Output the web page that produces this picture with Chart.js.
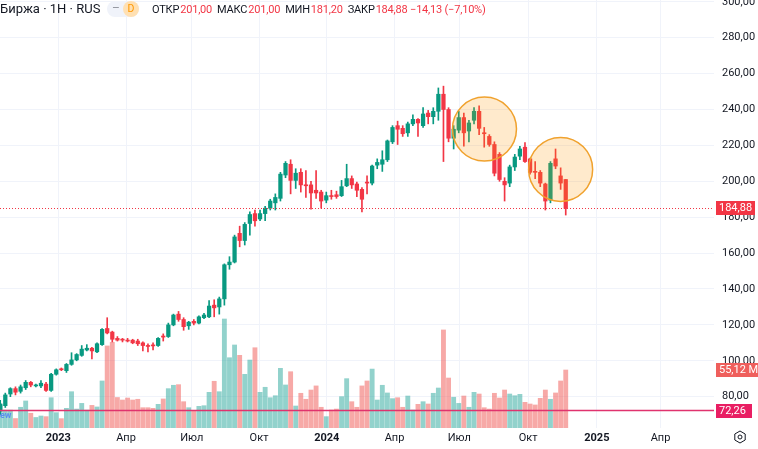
<!DOCTYPE html>
<html>
<head>
<meta charset="utf-8">
<script src="https://cdn.jsdelivr.net/npm/chart.js@4.4.1/dist/chart.umd.min.js"></script>
<style>
  html, body { margin: 0; padding: 0; background: #fff; }
  #wrap { position: relative; width: 758px; height: 449px; overflow: hidden; font-family: Roboto, "Noto Sans", sans-serif; }
  #c { position: absolute; left: 0; top: 0; }
  .hd { position: absolute; top: 0; white-space: nowrap; color: #131722; }
  .t { font-size: 13px; top: 1px; }
  #ohlc { position: absolute; left: 152px; top: 3px; font-size: 11px; white-space: nowrap; color: #131722; letter-spacing: -0.2px; }
  #ohlc .r { color: #f23645; margin-left: 1px; margin-right: 5px; }
  #pill { position: absolute; left: 107px; top: 1px; width: 32px; height: 16px; border-radius: 8px; background: #f0f3fa; }
  #pill .m { position: absolute; left: 5px; top: 0; font-size: 12px; color: #9598a1; }
  #pill .d { position: absolute; left: 16px; top: 0; width: 16px; height: 16px; border-radius: 8px; background: #ffe0b2; color: #ff9800; font-size: 10.5px; text-align: center; line-height: 16px; }
  #ew { position: absolute; left: 0; top: 410px; font-size: 9px; font-weight: bold; color: #5b8def; }
</style>
</head>
<body>
<div id="wrap">
  <canvas id="c" width="758" height="449"></canvas>
  <div class="hd t" style="left:0">Биржа · 1Н · RUS</div>
  <div id="pill"><span class="m">–</span><span class="d">D</span></div>
  <div id="ohlc">ОТКР<span class="r" id="vO"></span>МАКС<span class="r" id="vH"></span>МИН<span class="r" id="vL"></span>ЗАКР<span class="r" id="vC"></span></div>
  <div id="ew">ew</div>
</div>
<script>
// weekly candles, oct 2022 -> nov 2024
const opens  = [72,75,81.5,84.5,83,85,88,86,86,87,83.5,92.5,95.5,94.5,98,100.5,103,106,107,105,
  109,118,116,112.5,112,111.5,111.5,111,110,108.5,108.8,108.5,113.8,113.5,120,126,123,119.5,122,121,
  124,124.5,131,130,134.5,153.5,155,171,167,176.5,182,179,182,185,188,190.5,203.5,209.5,200.5,205,
  198,198,195,194,189.5,192,192.5,192,197.5,201.5,198.5,195.5,199.5,199,209,209.5,212,222,231,229.5,
  227,232,234.5,231,238,236,239,248.5,240,224,228.5,235.5,228,234,239,227,225,220.5,215,200,
  199,208,214,219,212.5,205.5,205,198.5,189.5,212.5,203,201];
const highs  = [78,82,85,85.5,86.5,89,88.5,87,89,88,93,95.5,96,98.5,104.5,104,108.5,109,107.5,110,
  118,124,116.5,113.5,112.5,112.5,112,112,110.5,109.5,110,113,115,121,126,127.5,124,122,123,125,
  126.5,133.5,134,135.5,154,158,170,175,177,183,184,184,186,190,193,205,211,212,207,207,
  206,200,206,195,194,195,194.5,200.5,209.5,203,199.5,196.5,203,209,212.5,217,223,231,233.5,231,
  233,237,235,241,239.5,241,252,253,241,231,239,238,234,241,242,230,226,222,216,202,
  209,215,219.5,221.5,213,211,206,199,211,218,207.5,201];
const lows   = [70,74,80,81,82,84,85.5,85.5,85,83,83,92,94.5,93.5,97.5,100,102.5,105.5,101,104.5,
  108.5,115,110.5,111,110.5,110.5,109.5,108.5,105.5,105,106,108,111,113,119.5,122,117,117.5,120,120.5,
  123.5,124,124.5,126,131,151,154.5,163.5,164.5,170,175,178,178,184,184,189,202,193,196,194,
  191,184.5,190.5,185,188,190,190.5,191.5,197,196,191.5,183,193,198,207,205.5,211,221,220.5,225,
  225,231,225,230,232,232,234,211,222,218,227,219.5,222,232,226,219,219.5,203,200,189,
  197,206,212,210.5,204,201.5,197,184,188,207,195.5,181.2];
const closes = [76,81,84.5,82.5,85.5,88,86.5,86.5,87.5,83.5,92.5,95,95,98,100.5,103.5,106.5,107,105.5,109.5,
  117.5,115.5,112,111.5,111.5,111,110,109.5,108.5,108,108.3,112.5,113.2,120,125.5,123,119,121.5,121,124.5,
  125.5,130.5,129.5,134.5,153.5,155,169,167,176,181.5,178,182,185,189,191,204,210,200.5,204.5,198,
  197.5,193.5,193.5,189,192,191.5,191.5,197,201.5,198,195,190,199,208.5,210.5,212,222.5,230,229,226.5,
  232,234.5,232.5,237.5,236,239,248.5,240,224,229,235.5,227,232.5,239,229.5,226.5,220.5,204.5,201,198,
  208,213.5,218,211,205,205,199,189,210,208.5,199.01,184.88];
// volume, millions
const volumes = [22,17,17,9,19.7,25.7,14,10,11.4,10.8,28.8,14.6,8.9,18.7,34.5,18,23.4,17,21.5,20,
  44.7,78,81.4,29,26.6,28.5,26.6,27.3,19.3,19.3,18.7,22.5,27.6,37.4,40.6,41.2,25,19.3,16.2,20.6,
  21.2,33.9,44.4,34.5,103.6,66.8,78.9,69.1,51,64.6,76.3,33.9,38.7,28.8,30.7,56.7,40.9,53.5,20.9,33,
  27.3,36.1,40,19.7,10.8,17.1,18,29.8,46.9,25,19.7,40,44.7,56,26.6,40.6,33.3,27.9,28.8,19.7,
  30.4,17.1,22.5,25,22.8,33,38,93.2,47.5,29.2,23.4,30.4,19.7,33.9,32.3,19.3,18,33,28.5,36.1,
  32.3,30.7,32,24.4,22.8,21.9,28.2,36.1,27.3,33.3,44.7,55.12];

const timeLabels = ["2023","Апр","Июл","Окт","2024","Апр","Июл","Окт","2025","Апр"];
const timePos    = [11.4,24.7,37.6,50.8,64.1,77.4,90.1,103.6,117.1,129.6];
const priceTicks = [80,100,120,140,160,180,200,220,240,260,280,300];
const hLineLevel = 72.26;
// drawn circles: bar index, price
const circles = [{x: 95.05, p: 229.1}, {x: 110, p: 206.6}];

const UP = "#089981", DN = "#f23645";
const VUP = "rgba(38,166,154,0.5)", VDN = "rgba(239,83,80,0.5)";
const N = closes.length;
const idx = closes.map((c, i) => i);
const isUp = idx.map(i => closes[i] >= opens[i]);
const fmt = v => v.toFixed(2).replace(".", ",");

// header values
const prev = closes[N - 2];
const ch = closes[N - 1] - prev;
document.getElementById("vO").textContent = fmt(opens[N - 1]);
document.getElementById("vH").textContent = fmt(highs[N - 1]);
document.getElementById("vL").textContent = fmt(lows[N - 1]);
document.getElementById("vC").textContent = fmt(closes[N - 1]) + " " + (ch < 0 ? "−" : "+") + fmt(Math.abs(ch)) +
  " (" + (ch < 0 ? "−" : "+") + fmt(Math.abs(ch / prev * 100)) + "%)";

const overlay = {
  id: "overlay",
  afterDraw(chart) {
    const { ctx, chartArea: a, scales } = chart;
    const y = scales.y, yv = scales.yv, x = scales.x;
    ctx.save();
    ctx.beginPath(); ctx.rect(a.left, a.top, a.right - a.left, a.bottom - a.top); ctx.clip();
    // last price line
    const yc = y.getPixelForValue(closes[N - 1]);
    ctx.strokeStyle = DN; ctx.lineWidth = 1; ctx.setLineDash([1, 2]);
    ctx.beginPath(); ctx.moveTo(a.left, Math.round(yc) + 0.5); ctx.lineTo(a.right, Math.round(yc) + 0.5); ctx.stroke();
    ctx.setLineDash([]);
    // horizontal level
    const yl = y.getPixelForValue(hLineLevel);
    ctx.strokeStyle = "#e0336e"; ctx.lineWidth = 1.5;
    ctx.beginPath(); ctx.moveTo(a.left, yl); ctx.lineTo(a.right, yl); ctx.stroke();
    // circles
    circles.forEach(c => {
      ctx.beginPath();
      ctx.arc(x.getPixelForValue(c.x), y.getPixelForValue(c.p), 32, 0, Math.PI * 2);
      ctx.fillStyle = "rgba(255,152,0,0.2)"; ctx.fill();
      ctx.strokeStyle = "#f0a22e"; ctx.lineWidth = 1.5; ctx.stroke();
    });
    ctx.restore();

    // axis value boxes
    ctx.save();
    ctx.font = "11px Roboto";
    ctx.textBaseline = "middle";
    const box = (yy, txt, bg, w) => {
      ctx.fillStyle = bg;
      ctx.fillRect(a.right + 2, Math.round(yy) - 7, w, 14);
      ctx.fillStyle = "#fff";
      ctx.fillText(txt, a.right + 5, Math.round(yy) + 0.5);
    };
    box(yc, fmt(closes[N - 1]), DN, 39);
    box(yv.getPixelForValue(volumes[N - 1]), fmt(volumes[N - 1]) + " M", "#ef5f5c", 42);
    box(yl, fmt(hLineLevel), "#e91e63", 36);
    // settings icon
    const cx = 740, cy = 437;
    ctx.strokeStyle = "#131722"; ctx.lineWidth = 1;
    ctx.beginPath();
    for (let k = 0; k < 6; k++) {
      const an = Math.PI / 3 * k + Math.PI / 6;
      const px = cx + 6 * Math.cos(an), py = cy + 6 * Math.sin(an);
      k ? ctx.lineTo(px, py) : ctx.moveTo(px, py);
    }
    ctx.closePath(); ctx.stroke();
    ctx.beginPath(); ctx.arc(cx, cy, 2, 0, Math.PI * 2); ctx.stroke();
    ctx.restore();
  }
};

new Chart(document.getElementById("c"), {
  type: "bar",
  data: {
    datasets: [
      {
        label: "body",
        data: idx.map(i => ({ x: i, y: [opens[i], closes[i]] })),
        backgroundColor: isUp.map(u => u ? UP : DN),
        barThickness: 3.6, minBarLength: 1, grouped: false, order: 1, yAxisID: "y"
      },
      {
        label: "wick",
        data: idx.map(i => ({ x: i, y: [lows[i], highs[i]] })),
        backgroundColor: isUp.map(u => u ? UP : DN),
        barThickness: 1, grouped: false, order: 2, yAxisID: "y"
      },
      {
        label: "volume",
        data: idx.map(i => ({ x: i, y: volumes[i] })),
        backgroundColor: isUp.map(u => u ? VUP : VDN),
        barThickness: 4.2, grouped: false, order: 3, yAxisID: "yv"
      }
    ]
  },
  options: {
    responsive: false,
    animation: false,
    layout: { padding: 0 },
    plugins: { legend: { display: false }, tooltip: { enabled: false } },
    scales: {
      x: {
        type: "linear",
        offset: false,
        min: -0.04, max: 140.1,
        grid: { color: "#f0f3fa", drawTicks: false, offset: false },
        border: { display: false },
        afterBuildTicks: s => { s.ticks = timePos.map(v => ({ value: v })); },
        afterFit: s => { s.height = 21; s.paddingLeft = 0; s.paddingRight = 0; },
        ticks: {
          autoSkip: false, maxRotation: 0, padding: 4, color: "#131722",
          callback: (v, i) => timeLabels[i],
          font: c => ({ family: "Roboto", size: 11, weight: /^\d{4}$/.test(timeLabels[c.index]) ? "bold" : "normal" })
        }
      },
      y: {
        position: "right",
        min: 62.56, max: 301,
        grid: { color: "#f0f3fa", drawTicks: false },
        border: { display: false },
        afterBuildTicks: s => { s.ticks = priceTicks.map(v => ({ value: v })); },
        afterFit: s => { s.width = 44; s.paddingTop = 0; s.paddingBottom = 0; },
        ticks: { padding: 8, color: "#131722", font: { family: "Roboto", size: 11 }, callback: v => fmt(v) }
      },
      yv: { display: false, min: 0, max: 406.8 }
    }
  },
  plugins: [overlay]
});
</script>
</body>
</html>
